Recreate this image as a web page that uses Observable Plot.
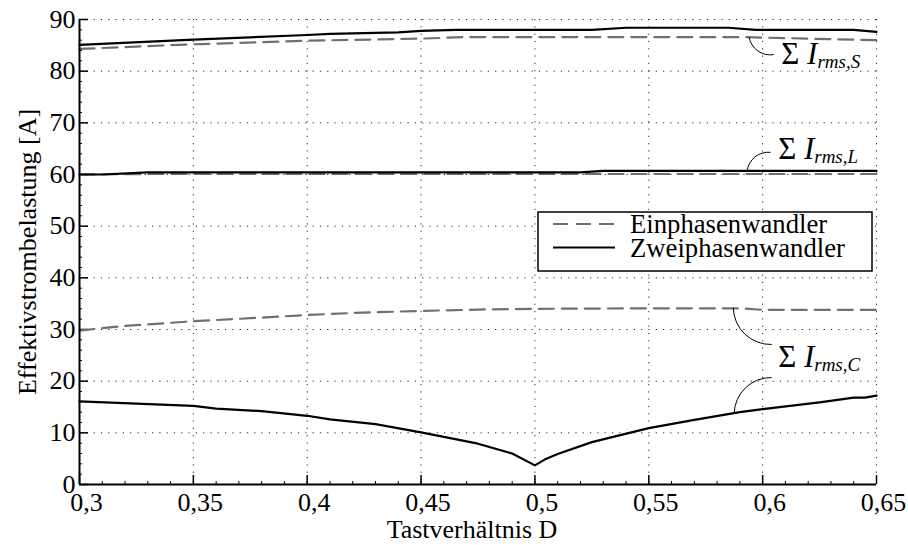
<!DOCTYPE html>
<html>
<head>
<meta charset="utf-8">
<script src="https://cdn.jsdelivr.net/npm/d3@7"></script>
<script src="https://cdn.jsdelivr.net/npm/@observablehq/plot@0.6"></script>
<style>
  html, body { margin: 0; padding: 0; background: white; }
  #chart { width: 908px; height: 545px; }
</style>
</head>
<body>
<div id="chart"></div>
<script>
// ---- tick values ----
const xTicks = [0.3, 0.35, 0.4, 0.45, 0.5, 0.55, 0.6, 0.65];
const yTicks = [0, 10, 20, 30, 40, 50, 60, 70, 80, 90];

// ---- series: Σ I_rms,S ----
const sEinD  = [0.30, 0.35, 0.40, 0.45, 0.47, 0.59, 0.65];
const sEinV  = [84.3, 85.2, 85.9, 86.3, 86.6, 86.6, 86.0];
const sZweiD = [0.30, 0.35, 0.40, 0.41, 0.44, 0.45, 0.465, 0.525, 0.54, 0.585, 0.597, 0.64, 0.65];
const sZweiV = [85.1, 86.1, 87.0, 87.2, 87.5, 87.8, 88.0, 88.0, 88.4, 88.4, 88.0, 88.0, 87.6];

// ---- series: Σ I_rms,L ----
const lEinD  = [0.30, 0.33, 0.65];
const lEinV  = [60.0, 60.1, 60.1];
const lZweiD = [0.30, 0.31, 0.33, 0.52, 0.53, 0.65];
const lZweiV = [60.0, 60.0, 60.4, 60.4, 60.7, 60.7];

// ---- series: Σ I_rms,C ----
const cEinD  = [0.30, 0.32, 0.35, 0.38, 0.40, 0.42, 0.45, 0.48, 0.50, 0.55, 0.59, 0.60, 0.65];
const cEinV  = [29.8, 30.7, 31.6, 32.3, 32.8, 33.2, 33.6, 33.9, 34.0, 34.1, 34.1, 33.8, 33.8];
const cZweiD = [0.30, 0.35, 0.36, 0.38, 0.40, 0.41, 0.43, 0.45, 0.475, 0.49, 0.50, 0.505, 0.51, 0.525, 0.55, 0.57, 0.59, 0.60, 0.625, 0.64, 0.645, 0.65];
const cZweiV = [16.1, 15.2, 14.7, 14.2, 13.3, 12.6, 11.7, 10.1, 7.9, 6.0, 3.7, 5.0, 5.9, 8.2, 10.9, 12.5, 14.0, 14.6, 15.9, 16.8, 16.8, 17.2];

// ---- legend ----
const legendLabels = ["Einphasenwandler", "Zweiphasenwandler"];

// ---- annotations ----
const annSub = ["S", "L", "C"];
const annD   = [0.6082, 0.6068, 0.6068];
const annV   = [81.3, 63.0, 22.7];

// leader arcs
const leadD1 = [0.5941, 0.5932, 0.5871, 0.5875];
const leadV1 = [86.5, 60.7, 34.1, 13.8];
const leadD2 = [0.6047, 0.6033, 0.6038, 0.6038];
const leadV2 = [83.2, 64.3, 27.1, 20.7];
const leadDir = [-1, 1, -1, 1];

// ---- build tables ----
function rows(D, V, type, group) { return D.map((d, i) => ({D: d, v: V[i], type, group})); }
const ein = [...rows(sEinD, sEinV, "Ein", "S"), ...rows(lEinD, lEinV, "Ein", "L"), ...rows(cEinD, cEinV, "Ein", "C")];
const zwei = [...rows(sZweiD, sZweiV, "Zwei", "S"), ...rows(lZweiD, lZweiV, "Zwei", "L"), ...rows(cZweiD, cZweiV, "Zwei", "C")];
const anns = annSub.map((s, i) => ({sub: s, D: annD[i], v: annV[i]}));
const leads = leadD1.map((d, i) => ({x1: d, y1: leadV1[i], x2: leadD2[i], y2: leadV2[i], dir: leadDir[i]}));

const xMinor = d3.range(0, 36).map(i => +(0.3 + i * 0.01).toFixed(3));
const yMinor = d3.range(0, 46).map(i => i * 2);

const fmt = d => String(d).replace(".", ",");
const font = "'Liberation Serif', 'Times New Roman', serif";
const einStyle = {stroke: "#6f6f6f", strokeWidth: 2.2, strokeDasharray: "15,8"};
const zweiStyle = {stroke: "black", strokeWidth: 2.2};

const chart = Plot.plot({
  width: 908,
  height: 545,
  marginLeft: 79,
  marginRight: 32,
  marginTop: 19,
  marginBottom: 61,
  x: {domain: [0.3, 0.65]},
  y: {domain: [0, 90]},
  style: {fontFamily: font, fontSize: "26px", background: "white", color: "black", overflow: "visible"},
  marks: [
    Plot.gridX(xTicks, {stroke: "black", strokeOpacity: 0.85, strokeWidth: 1, strokeDasharray: "1.2,6.1"}),
    Plot.gridY(yTicks, {stroke: "black", strokeOpacity: 0.85, strokeWidth: 1, strokeDasharray: "1.2,6.1"}),
    Plot.axisX(xTicks, {tickSize: 0, tickPadding: 8, dx: 7, tickFormat: fmt, fontSize: 26, label: null}),
    Plot.axisY(yTicks, {tickSize: 0, tickPadding: 4, fontSize: 26, label: null}),
    // inward ticks
    Plot.ruleX(xTicks, {x: d => d, y1: 0, y2: 0, insetTop: -9, stroke: "black", strokeWidth: 1.5}),
    Plot.ruleX(xMinor, {x: d => d, y1: 0, y2: 0, insetTop: -3, stroke: "black", strokeWidth: 1}),
    Plot.ruleY(yTicks, {y: d => d, x1: 0.3, x2: 0.3, insetRight: -9, stroke: "black", strokeWidth: 1.5}),
    Plot.ruleY(yMinor, {y: d => d, x1: 0.3, x2: 0.3, insetRight: -3, stroke: "black", strokeWidth: 1}),
    // data lines
    Plot.line(ein, {x: "D", y: "v", z: "group", ...einStyle}),
    Plot.line(zwei, {x: "D", y: "v", z: "group", ...zweiStyle}),
    // axis lines
    Plot.ruleY([0], {stroke: "black", strokeWidth: 2}),
    Plot.ruleX([0.3], {stroke: "black", strokeWidth: 2}),
    // leaders
    Plot.arrow(leads.filter(d => d.dir < 0), {x1: "x1", y1: "y1", x2: "x2", y2: "y2", bend: -45, headLength: 0, stroke: "black", strokeWidth: 1}),
    Plot.arrow(leads.filter(d => d.dir > 0), {x1: "x1", y1: "y1", x2: "x2", y2: "y2", bend: 45, headLength: 0, stroke: "black", strokeWidth: 1}),
    // annotations
    Plot.text(anns, {x: "D", y: "v", text: d => "Σ Irms," + d.sub, textAnchor: "start", lineAnchor: "bottom", fontSize: 31}),
    // axis labels
    Plot.text(["Tastverhältnis D"], {text: d => d, frameAnchor: "bottom", dy: 53, dx: -6, lineAnchor: "bottom", textAnchor: "middle", fontSize: 26}),
    Plot.text(["Effektivstrombelastung [A]"], {text: d => d, frameAnchor: "left", rotate: -90, dx: -44, lineAnchor: "bottom", textAnchor: "middle", fontSize: 26})
  ]
});

document.getElementById("chart").appendChild(chart);

// rich annotation text: Σ upright, I italic, subscript italic smaller
d3.select(chart).selectAll("text").each(function () {
  const t = this.textContent;
  if (t.startsWith("Σ Irms,")) {
    const sub = t.slice(7);
    const el = d3.select(this);
    el.text(null);
    el.append("tspan").text("Σ ");
    el.append("tspan").attr("font-style", "italic").text("I");
    el.append("tspan").attr("font-style", "italic").attr("font-size", 19).attr("dy", 4).text("rms," + sub);
  }
});

// legend box inside plot area
const svg = d3.select(chart);
const lg = svg.append("g").attr("transform", "translate(538,212)").attr("text-anchor", "start");
lg.append("rect").attr("width", 334).attr("height", 59).attr("fill", "white").attr("stroke", "black").attr("stroke-width", 1.5);
const lstyles = [einStyle, zweiStyle];
legendLabels.forEach((lab, i) => {
  const yLine = 12 + i * 23.5;
  const s = lstyles[i];
  lg.append("line").attr("x1", 15).attr("x2", 77).attr("y1", yLine).attr("y2", yLine)
    .attr("stroke", s.stroke).attr("stroke-width", s.strokeWidth)
    .attr("stroke-dasharray", s.strokeDasharray || null);
  lg.append("text").attr("x", 92).attr("y", yLine + 9)
    .attr("text-anchor", "start")
    .attr("font-family", font).attr("font-size", 26.7).attr("fill", "black").text(lab);
});
</script>
</body>
</html>
